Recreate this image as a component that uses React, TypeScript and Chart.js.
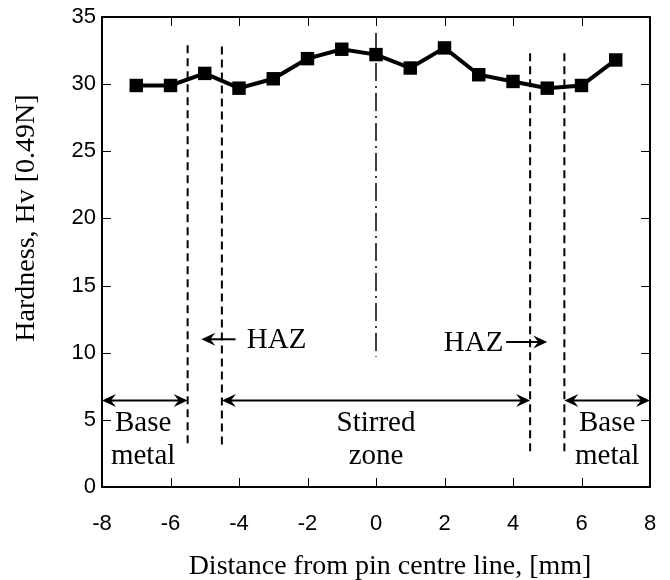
import React, { useEffect, useRef } from "react";
import { Chart, registerables } from "chart.js";

Chart.register(...registerables);

// ---- data ----
const positions = [-7, -6, -5, -4, -3, -2, -1, 0, 1, 2, 3, 4, 5, 6, 7];
const hardness = [29.9, 29.9, 30.8, 29.7, 30.4, 31.9, 32.6, 32.2, 31.2, 32.7, 30.7, 30.2, 29.7, 29.9, 31.8];
const xTicks = [-8, -6, -4, -2, 0, 2, 4, 6, 8];
const yTicks = [0, 5, 10, 15, 20, 25, 30, 35];

// zone boundaries (dashed verticals): x, top value, bottom value
const boundaryX = [-5.5, -4.5, 4.5, 5.5];
const boundaryTop = [32.9, 32.8, 32.3, 32.3];
const boundaryBottom = [3.0, 2.9, 2.4, 2.4];
// pin centre line (dash-dot): x, top, bottom
const centreX = 0;
const centreTop = 33.8;
const centreBottom = 9.7;
// double-headed span arrows: from, to, level
const spanFrom = [-8, -4.5, 5.5];
const spanTo = [-5.5, 4.5, 8];
const spanLevel = 6.45;
// HAZ pointer arrows: tail x, head x, level
const hazTail = [-4.1, 3.8];
const hazHead = [-5.1, 5.0];
const hazLevel = [11.0, 10.8];
const hazText = ["HAZ", "HAZ"];
const hazTextX = [-2.9, 2.85];
// zone labels
const zoneLine1 = ["Base", "Stirred", "Base"];
const zoneLine2 = ["metal", "zone", "metal"];
const zoneTextX = [-6.8, 0, 6.75];
const zoneLine1Y = 4.75;
const zoneLine2Y = 2.25;

const xTitle = "Distance from pin centre line, [mm]";
const yTitle = "Hardness, Hv [0.49N]";

const SERIF = "'Liberation Serif', 'Times New Roman', serif";
const SANS = "'Liberation Sans', Arial, sans-serif";

function arrowHead(ctx: CanvasRenderingContext2D, tx: number, ty: number, dir: number) {
  const L = 14, W = 6.5, N = 9;
  ctx.beginPath();
  ctx.moveTo(tx, ty);
  ctx.lineTo(tx - dir * L, ty - W);
  ctx.lineTo(tx - dir * N, ty);
  ctx.lineTo(tx - dir * L, ty + W);
  ctx.closePath();
  ctx.fill();
}

const annotPlugin = {
  id: "annot",
  beforeDatasetsDraw(chart: any) {
    const { ctx, chartArea: a, scales } = chart;
    const x = scales.x, y = scales.y;
    ctx.save();
    ctx.strokeStyle = "#000";
    ctx.fillStyle = "#000";

    // frame
    ctx.lineWidth = 2;
    ctx.strokeRect(a.left, a.top, a.right - a.left, a.bottom - a.top);

    // inside ticks
    ctx.lineWidth = 1;
    const tl = 9;
    ctx.beginPath();
    xTicks.forEach((v) => {
      const px = Math.round(x.getPixelForValue(v)) + 0.5;
      ctx.moveTo(px, a.bottom);
      ctx.lineTo(px, a.bottom - tl);
      ctx.moveTo(px, a.top);
      ctx.lineTo(px, a.top + tl);
    });
    yTicks.forEach((v) => {
      const py = Math.round(y.getPixelForValue(v)) + 0.5;
      ctx.moveTo(a.left, py);
      ctx.lineTo(a.left + tl, py);
      ctx.moveTo(a.right, py);
      ctx.lineTo(a.right - tl, py);
    });
    ctx.stroke();

    // dashed boundaries
    ctx.lineWidth = 2;
    ctx.setLineDash([8, 5]);
    boundaryX.forEach((bx, i) => {
      const px = x.getPixelForValue(bx);
      ctx.beginPath();
      ctx.moveTo(px, y.getPixelForValue(boundaryTop[i]));
      ctx.lineTo(px, y.getPixelForValue(boundaryBottom[i]));
      ctx.stroke();
    });

    // centre dash-dot line
    ctx.lineWidth = 1.5;
    ctx.setLineDash([18, 5, 2, 5]);
    const cx = x.getPixelForValue(centreX);
    ctx.beginPath();
    ctx.moveTo(cx, y.getPixelForValue(centreTop));
    ctx.lineTo(cx, y.getPixelForValue(centreBottom));
    ctx.stroke();
    ctx.setLineDash([]);

    // span arrows
    ctx.lineWidth = 2;
    const sy = y.getPixelForValue(spanLevel);
    spanFrom.forEach((f, i) => {
      const p1 = x.getPixelForValue(f);
      const p2 = x.getPixelForValue(spanTo[i]);
      ctx.beginPath();
      ctx.moveTo(p1 + 8, sy);
      ctx.lineTo(p2 - 8, sy);
      ctx.stroke();
      arrowHead(ctx, p1, sy, -1);
      arrowHead(ctx, p2, sy, 1);
    });

    // HAZ arrows and text
    ctx.font = `29px ${SERIF}`;
    ctx.textAlign = "center";
    ctx.textBaseline = "middle";
    hazTail.forEach((t, i) => {
      const hy = y.getPixelForValue(hazLevel[i]);
      const pt = x.getPixelForValue(t);
      const ph = x.getPixelForValue(hazHead[i]);
      const dir = ph > pt ? 1 : -1;
      ctx.beginPath();
      ctx.moveTo(pt, hy);
      ctx.lineTo(ph - dir * 8, hy);
      ctx.stroke();
      arrowHead(ctx, ph, hy, dir);
      ctx.fillText(hazText[i], x.getPixelForValue(hazTextX[i]), hy + 1);
    });

    // zone labels
    zoneLine1.forEach((t, i) => {
      const px = x.getPixelForValue(zoneTextX[i]);
      ctx.fillText(t, px, y.getPixelForValue(zoneLine1Y));
      ctx.fillText(zoneLine2[i], px, y.getPixelForValue(zoneLine2Y));
    });

    // axis titles
    ctx.font = `28px ${SERIF}`;
    ctx.fillText(xTitle, 390, 567);
    ctx.save();
    ctx.translate(27, 218);
    ctx.rotate(-Math.PI / 2);
    ctx.fillText(yTitle, 0, 0);
    ctx.restore();

    ctx.restore();
  },
};

export default function App() {
  const ref = useRef<HTMLCanvasElement | null>(null);
  useEffect(() => {
    if (!ref.current) return;
    const chart = new Chart(ref.current, {
      type: "scatter",
      data: {
        datasets: [
          {
            data: positions.map((p, i) => ({ x: p, y: hardness[i] })),
            showLine: true,
            borderColor: "#000",
            backgroundColor: "#000",
            borderWidth: 4,
            pointStyle: "rect",
            pointRadius: 9.5,
            pointBorderWidth: 0,
            pointBackgroundColor: "#000",
          },
        ],
      },
      plugins: [annotPlugin],
      options: {
        animation: false,
        responsive: false,
        layout: { padding: { left: 0, right: 20, top: 17, bottom: 0 } },
        plugins: { legend: { display: false }, tooltip: { enabled: false } },
        scales: {
          x: {
            type: "linear",
            min: -8,
            max: 8,
            afterBuildTicks: (s: any) => {
              s.ticks = xTicks.map((v) => ({ value: v }));
            },
            afterFit: (s: any) => {
              s.height = 93;
            },
            grid: { display: true, drawOnChartArea: false, drawTicks: true, tickLength: 21, tickColor: "rgba(0,0,0,0)" },
            border: { display: false },
            ticks: {
              color: "#000",
              font: { family: SANS, size: 22 },
              padding: 3,
              maxRotation: 0,
            },
          },
          y: {
            type: "linear",
            min: 0,
            max: 35,
            afterBuildTicks: (s: any) => {
              s.ticks = yTicks.map((v) => ({ value: v }));
            },
            afterFit: (s: any) => {
              s.width = 102;
            },
            grid: { display: true, drawOnChartArea: false, drawTicks: true, tickLength: 6, tickColor: "rgba(0,0,0,0)" },
            border: { display: false },
            ticks: {
              color: "#000",
              font: { family: SANS, size: 22 },
              padding: 0,
            },
          },
        },
      },
    });
    return () => chart.destroy();
  }, []);
  return (
    <div style={{ position: "absolute", left: 0, top: 0, width: 670, height: 580, background: "#fff" }}>
      <canvas ref={ref} width={670} height={580} />
    </div>
  );
}
